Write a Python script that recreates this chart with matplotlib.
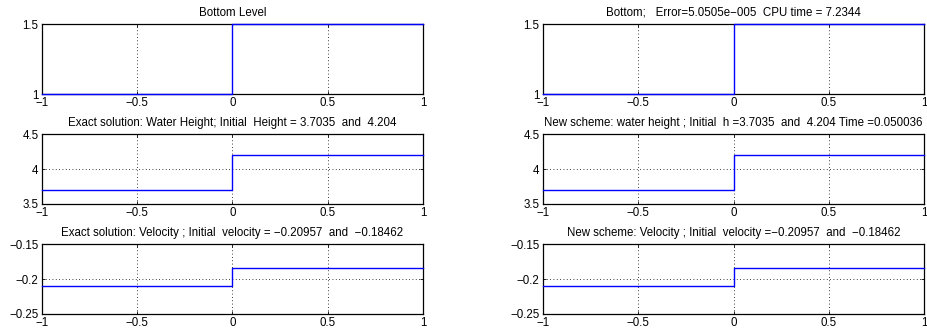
import matplotlib
matplotlib.use("Agg")
import matplotlib.pyplot as plt

# step data: left state on [-1, 0], right state on [0, 1]
x = [-1, 0, 0, 1]
bottom_level = [1, 1, 1.5, 1.5]
water_height = [3.7035, 3.7035, 4.204, 4.204]
velocity = [-0.20957, -0.20957, -0.18462, -0.18462]

x_ticks = [-1, -0.5, 0, 0.5, 1]
x_labels = ["\u22121", "\u22120.5", "0", "0.5", "1"]
ylims = [(1, 1.5), (3.5, 4.5), (-0.25, -0.15)]
y_ticks = [[1, 1.5], [3.5, 4, 4.5], [-0.25, -0.2, -0.15]]
y_labels = [["1", "1.5"], ["3.5", "4", "4.5"], ["\u22120.25", "\u22120.2", "\u22120.15"]]

titles_left = [
    "Bottom Level",
    "Exact solution: Water Height; Initial  Height = 3.7035  and  4.204",
    "Exact solution: Velocity ; Initial  velocity = \u22120.20957  and  \u22120.18462",
]
titles_right = [
    "Bottom;   Error=5.0505e\u2212005  CPU time = 7.2344",
    "New scheme: water height ; Initial  h =3.7035  and  4.204 Time =0.050036",
    "New scheme: Velocity ; Initial  velocity =\u22120.20957  and  \u22120.18462",
]
series = [bottom_level, water_height, velocity]

plt.rcParams['font.family'] = ['Liberation Sans', 'DejaVu Sans']
plt.rcParams['font.size'] = 8.3

fig = plt.figure(figsize=(9.27, 3.33), dpi=100)

lefts = [0.0453, 0.5858]
bottoms = [0.7177, 0.3874, 0.0571]
w, h = 0.411, 0.210

for col, titles in enumerate([titles_left, titles_right]):
    for row in range(3):
        ax = fig.add_axes([lefts[col], bottoms[row], w, h])
        ax.plot(x, series[row], color='#0000ff', lw=1.0, clip_on=False, zorder=3)
        ax.set_xlim(-1, 1)
        ax.set_ylim(*ylims[row])
        ax.set_xticks(x_ticks)
        ax.set_xticklabels(x_labels)
        ax.set_yticks(y_ticks[row])
        ax.set_yticklabels(y_labels[row])
        ax.grid(True, color='black', linestyle=(0, (1, 3)), linewidth=0.6)
        ax.tick_params(direction='in', length=2.5, width=0.6, top=True, right=True,
                       labelsize=8.3)
        ax.tick_params(axis='x', pad=2.5)
        ax.tick_params(axis='y', pad=2.5)
        for sp in ax.spines.values():
            sp.set_linewidth(0.9)
        ax.set_title(titles[row], fontsize=8.3, pad=6)

fig.savefig("out.png", dpi=100, facecolor='white')
